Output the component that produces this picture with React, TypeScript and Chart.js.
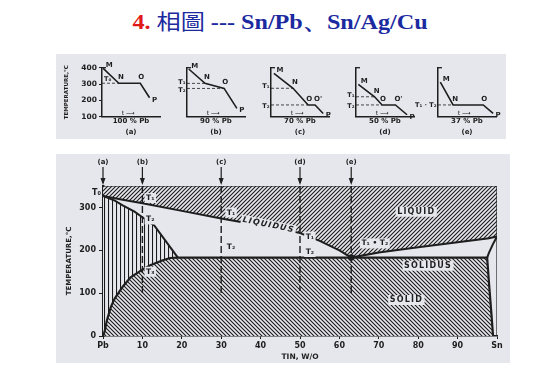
import React, { useEffect, useRef } from 'react';
import { Chart, registerables } from 'chart.js';
Chart.register(...registerables);

const PANEL_BG = '#e6e6ed';
const INK = '#1e1e1e';
const SANS = "'DejaVu Sans', 'Liberation Sans', sans-serif";

// ---------- Title ----------
const titleNumber = '4.';
const titleCJK = '相圖';
const titleRest = '--- Sn/Pb、Sn/Ag/Cu';

// ---------- Cooling curves (top row) ----------
const coolingCaptions = ['(a)', '(b)', '(c)', '(d)', '(e)'];
const coolingCompositions = ['100 % Pb', '90 % Pb', '70 % Pb', '50 % Pb', '37 % Pb'];

const curveATime = [0.02, 0.29, 0.66, 0.82];
const curveATemp = [396, 305, 305, 216];
const curveAMarks = ['M', 'N', 'O', 'P'];
const levelANames = ['T₀'];
const levelATemps = [305];

const curveBTime = [0.03, 0.31, 0.64, 0.86];
const curveBTemp = [392, 304, 273, 151];
const curveBMarks = ['M', 'N', 'O', 'P'];
const levelBNames = ['T₁', 'T₂'];
const levelBTemps = [304, 273];

const curveCTime = [0.05, 0.38, 0.64, 0.76, 0.9];
const curveCTemp = [365, 274, 172, 172, 120];
const curveCMarks = ['M', 'N', 'O', "O'", 'P'];
const levelCNames = ['T₁', 'T₂'];
const levelCTemps = [274, 172];

const curveDTime = [0.04, 0.32, 0.45, 0.68, 0.88];
const curveDTemp = [298, 222, 172, 172, 112];
const curveDMarks = ['M', 'N', 'O', "O'", 'P'];
const levelDNames = ['T₁', 'T₂'];
const levelDTemps = [222, 172];

const curveETime = [0.04, 0.26, 0.78, 0.95];
const curveETemp = [312, 172, 172, 121];
const curveEMarks = ['M', 'N', 'O', 'P'];
const levelENames = ['T₁ · T₂'];
const levelETemps = [172];

type Curve = { time: number[]; temp: number[]; marks: string[]; levelNames: string[]; levelTemps: number[] };
const coolingCurves: Curve[] = [
  { time: curveATime, temp: curveATemp, marks: curveAMarks, levelNames: levelANames, levelTemps: levelATemps },
  { time: curveBTime, temp: curveBTemp, marks: curveBMarks, levelNames: levelBNames, levelTemps: levelBTemps },
  { time: curveCTime, temp: curveCTemp, marks: curveCMarks, levelNames: levelCNames, levelTemps: levelCTemps },
  { time: curveDTime, temp: curveDTemp, marks: curveDMarks, levelNames: levelDNames, levelTemps: levelDTemps },
  { time: curveETime, temp: curveETemp, marks: curveEMarks, levelNames: levelENames, levelTemps: levelETemps },
];

// ---------- Phase diagram (bottom) ----------
const tinTicks = [0, 10, 20, 30, 40, 50, 60, 70, 80, 90, 100];
const tinTickLabels = ['Pb', '10', '20', '30', '40', '50', '60', '70', '80', '90', 'Sn'];

const liquidusTin = [0, 5, 10, 20, 30, 40, 45, 50, 55, 60, 63, 70, 80, 90, 98, 100];
const liquidusTemp = [327, 318, 310, 292, 274, 258, 251, 240, 222, 200, 183, 195, 207, 219, 228, 232];

const alphaSolidusTin = [0, 3, 5, 8, 10, 13, 15, 17, 19];
const alphaSolidusTemp = [327, 316, 305, 290, 277, 258, 233, 208, 183];

// solvus (Pb side) + eutectic line + solvus (Sn side)
const solidBoundaryTin = [0, 0.2, 0.4, 1, 2, 3, 5, 7, 10, 12, 15, 17, 19, 97.5, 98, 98.6, 99];
const solidBoundaryTemp = [0, 0, 10, 37, 68, 88, 115, 137, 155, 165, 176, 182, 183, 183, 120, 50, 0];

const betaSolidusTin = [100, 99, 98, 97.5];
const betaSolidusTemp = [232, 215, 195, 183];

const frameTin = [0, 100, 100];
const frameTemp = [350, 350, 0];

const eutecticTin = 63;
const eutecticTemp = 183;

const sectionTin = [0, 10, 30, 50, 63];
const sectionNames = ['(a)', '(b)', '(c)', '(d)', '(e)'];
const sectionDashBottom = [0, 100, 100, 105, 95];

const stateLabels = ['T₁', 'T₂', 'T₃', 'T₁', 'T₂', 'T₁', 'T₂', 'T₁ • T₂'];
const stateLabelTin = [12, 12, 12, 32.5, 32.5, 52.5, 52.5, 69];
const stateLabelTemp = [322, 272, 150, 288, 208, 232, 196, 216];

const regionLabels = ['LIQUID', 'SOLIDUS', 'SOLID'];
const regionLabelTin = [79.5, 82.5, 77];
const regionLabelTemp = [290, 164, 84];

const liquidusLabel = 'LIQUIDUS';
const liquidusLabelTin = 42;
const liquidusLabelTemp = 259;

// ---------- helpers ----------
function hatch(ctx: CanvasRenderingContext2D, kind: 'fwd' | 'back' | 'vert', size = 4) {
  const c = document.createElement('canvas');
  c.width = size;
  c.height = size;
  const g = c.getContext('2d')!;
  g.fillStyle = PANEL_BG;
  g.fillRect(0, 0, size, size);
  g.strokeStyle = '#1a1a1a';
  g.lineWidth = 1.1;
  g.beginPath();
  if (kind === 'vert') {
    g.moveTo(0.5, 0);
    g.lineTo(0.5, size);
  } else if (kind === 'fwd') {
    g.moveTo(0, size);
    g.lineTo(size, 0);
    g.moveTo(-1, 1);
    g.lineTo(1, -1);
    g.moveTo(size - 1, size + 1);
    g.lineTo(size + 1, size - 1);
  } else {
    g.moveTo(0, 0);
    g.lineTo(size, size);
    g.moveTo(-1, size - 1);
    g.lineTo(1, size + 1);
    g.moveTo(size - 1, -1);
    g.lineTo(size + 1, 1);
  }
  g.stroke();
  return ctx.createPattern(c, 'repeat')!;
}

function boxedText(ctx: CanvasRenderingContext2D, text: string, x: number, y: number) {
  const w = ctx.measureText(text).width;
  ctx.fillStyle = PANEL_BG;
  ctx.fillRect(x - w / 2 - 1.5, y - 5, w + 3, 10);
  ctx.fillStyle = INK;
  ctx.fillText(text, x, y);
}

const MARK_OFFSET: Record<string, [number, number]> = {
  M: [6, -3],
  N: [2, -6],
  O: [1, -6],
  "O'": [3, -6],
  P: [5, 2],
};

const coolingAnnotations = {
  id: 'coolingAnnotations',
  afterDatasetsDraw(chart: any, _args: any, opts: any) {
    const { ctx, chartArea: ca, scales } = chart;
    const x = scales.x;
    const y = scales.y;
    const idx: number = opts.index;
    const curve = coolingCurves[idx];
    ctx.save();
    ctx.strokeStyle = INK;
    ctx.fillStyle = INK;
    ctx.lineWidth = 1.3;
    ctx.beginPath();
    ctx.moveTo(ca.left, ca.top);
    ctx.lineTo(ca.left + 4, ca.top);
    ctx.stroke();
    ctx.textBaseline = 'middle';
    curve.levelTemps.forEach((T, k) => {
      const j = curve.temp.findIndex((v) => Math.abs(v - T) < 0.01);
      const tx = j >= 0 ? curve.time[j] : 0.3;
      const py = y.getPixelForValue(T);
      ctx.setLineDash([3, 2]);
      ctx.lineWidth = 0.8;
      ctx.beginPath();
      ctx.moveTo(ca.left, py);
      ctx.lineTo(x.getPixelForValue(tx), py);
      ctx.stroke();
      ctx.setLineDash([]);
      ctx.font = `bold 6.5px ${SANS}`;
      if (idx === 0) {
        ctx.textAlign = 'left';
        ctx.fillText(curve.levelNames[k], ca.left + 2, py - 4);
      } else {
        ctx.textAlign = 'right';
        const dy = curve.levelNames.length > 1 ? (k === 0 ? -1.5 : 1.5) : 0;
        ctx.fillText(curve.levelNames[k], ca.left - 1.5, py + dy);
      }
    });
    ctx.font = `bold 7px ${SANS}`;
    ctx.textAlign = 'center';
    curve.marks.forEach((m, k) => {
      const off = MARK_OFFSET[m] || [0, -6];
      ctx.fillText(m, x.getPixelForValue(curve.time[k]) + off[0], y.getPixelForValue(curve.temp[k]) + off[1]);
    });
    ctx.font = `6px ${SANS}`;
    ctx.fillText('t ⟶', x.getPixelForValue(0.45), ca.bottom - 3);
    ctx.restore();
  },
};

const MINI_AXIS_LEFT = [101.7, 186.7, 271, 356, 438.3];
const MINI_AXIS_W = [40, 24, 24, 24, 26];
const MINI_PLOT_W = 58;
const MINI_RIGHT = 12;
const MINI_TOP = 56;
const MINI_H = 82;
const MINI_PAD_TOP = 11.7;
const MINI_XAXIS_H = 21.3;

function MiniCooling({ i }: { i: number }) {
  const ref = useRef<HTMLCanvasElement>(null);
  const width = MINI_AXIS_W[i] + MINI_PLOT_W + MINI_RIGHT;
  useEffect(() => {
    const curve = coolingCurves[i];
    const chart = new Chart(ref.current!, {
      type: 'line',
      data: {
        datasets: [
          {
            data: curve.time.map((t, k) => ({ x: t, y: curve.temp[k] })),
            borderColor: INK,
            borderWidth: 1.6,
            pointRadius: 0,
            fill: false,
          },
        ],
      },
      options: {
        responsive: false,
        animation: false,
        layout: { padding: { top: MINI_PAD_TOP, right: MINI_RIGHT, left: 0, bottom: 0 } },
        plugins: {
          legend: { display: false },
          tooltip: { enabled: false },
          coolingAnnotations: { index: i },
        } as any,
        scales: {
          x: {
            type: 'linear',
            min: 0,
            max: 1,
            grid: { display: false },
            border: { display: true, color: INK, width: 1.5 },
            ticks: { display: false },
            title: {
              display: true,
              text: [coolingCompositions[i], coolingCaptions[i]],
              color: INK,
              font: { family: SANS, size: 7, weight: 'bold', lineHeight: 1.6 },
              padding: { top: 0, bottom: 0 },
            },
            afterFit: (s: any) => {
              s.height = MINI_XAXIS_H;
            },
          },
          y: {
            type: 'linear',
            min: 100,
            max: 400,
            ticks: {
              display: i === 0,
              stepSize: 100,
              color: INK,
              font: { family: SANS, size: 7.5, weight: 'bold' },
              padding: 2,
            },
            grid: { display: i === 0, drawOnChartArea: false, tickLength: 3, color: INK },
            border: { display: true, color: INK, width: 1.5 },
            title: {
              display: i === 0,
              text: 'TEMPERATURE,°C',
              color: INK,
              font: { family: SANS, size: 5.5, weight: 'bold' },
              padding: { top: 1, bottom: 0 },
            },
            afterFit: (s: any) => {
              s.width = MINI_AXIS_W[i];
            },
          },
        },
      } as any,
      plugins: [coolingAnnotations as any],
    });
    return () => chart.destroy();
  }, [i]);
  return (
    <canvas
      ref={ref}
      width={width}
      height={MINI_H}
      style={{ position: 'absolute', left: MINI_AXIS_LEFT[i] - MINI_AXIS_W[i], top: MINI_TOP }}
    />
  );
}

const phaseAnnotations = {
  id: 'phaseAnnotations',
  afterDatasetsDraw(chart: any) {
    const { ctx, chartArea: ca, scales } = chart;
    const x = scales.x;
    const y = scales.y;
    ctx.save();
    ctx.strokeStyle = INK;
    ctx.fillStyle = INK;
    ctx.textAlign = 'center';
    ctx.textBaseline = 'middle';
    // section captions and arrows
    ctx.font = `bold 7px ${SANS}`;
    sectionTin.forEach((v, k) => {
      const px = x.getPixelForValue(v);
      ctx.fillText(sectionNames[k], px, ca.top - 24);
      ctx.lineWidth = 1.2;
      ctx.beginPath();
      ctx.moveTo(px, ca.top - 19);
      ctx.lineTo(px, ca.top - 3);
      ctx.stroke();
      ctx.beginPath();
      ctx.moveTo(px - 2.5, ca.top - 8);
      ctx.lineTo(px, ca.top - 1);
      ctx.lineTo(px + 2.5, ca.top - 8);
      ctx.closePath();
      ctx.fill();
    });
    // T0
    ctx.font = `bold 8px ${SANS}`;
    ctx.textAlign = 'right';
    ctx.fillText('T₀', x.getPixelForValue(0) - 2, y.getPixelForValue(327) - 3);
    ctx.textAlign = 'center';
    // state labels
    ctx.font = `bold 7.5px ${SANS}`;
    stateLabels.forEach((s, k) => {
      boxedText(ctx, s, x.getPixelForValue(stateLabelTin[k]), y.getPixelForValue(stateLabelTemp[k]));
    });
    // region labels
    ctx.font = `bold 8px ${SANS}`;
    (ctx as any).letterSpacing = '1.2px';
    regionLabels.forEach((s, k) => {
      boxedText(ctx, s, x.getPixelForValue(regionLabelTin[k]), y.getPixelForValue(regionLabelTemp[k]));
    });
    // LIQUIDUS along the curve
    ctx.save();
    ctx.translate(x.getPixelForValue(liquidusLabelTin), y.getPixelForValue(liquidusLabelTemp));
    ctx.rotate(0.2);
    ctx.font = `italic bold 8px ${SANS}`;
    boxedText(ctx, liquidusLabel, 0, 0);
    ctx.restore();
    ctx.restore();
  },
};

function PhaseDiagram() {
  const ref = useRef<HTMLCanvasElement>(null);
  useEffect(() => {
    const canvas = ref.current!;
    const ctx = canvas.getContext('2d')!;
    const fwd = hatch(ctx, 'fwd');
    const back = hatch(ctx, 'back');
    const vert = hatch(ctx, 'vert');
    const pts = (xs: number[], ys: number[]) => xs.map((v, k) => ({ x: v, y: ys[k] }));
    const line = (data: any[], extra: any = {}) => ({
      data,
      borderColor: INK,
      borderWidth: 2,
      pointRadius: 0,
      fill: false,
      tension: 0,
      ...extra,
    });
    const dashed = sectionTin
      .map((v, k) =>
        k === 0
          ? null
          : line(
              [
                { x: v, y: 350 },
                { x: v, y: sectionDashBottom[k] },
              ],
              { borderDash: [7, 3], borderWidth: 1.4 }
            )
      )
      .filter(Boolean);
    const datasets = [
      ...dashed,
      line(pts(frameTin, frameTemp), { borderWidth: 1.2 }),
      line([{ x: eutecticTin, y: eutecticTemp }], {
        showLine: false,
        pointRadius: 3.2,
        pointBackgroundColor: INK,
        pointBorderWidth: 0,
      }),
      line(pts(betaSolidusTin, betaSolidusTemp), { borderWidth: 2 }),
      line(pts(liquidusTin, liquidusTemp), { fill: 'end', backgroundColor: fwd }),
      line(pts(solidBoundaryTin, solidBoundaryTemp), { fill: 'origin', backgroundColor: back, borderWidth: 2.2 }),
      line(pts(alphaSolidusTin, alphaSolidusTemp), { fill: 'origin', backgroundColor: vert }),
    ];
    const chart = new Chart(canvas, {
      type: 'line',
      data: { datasets: datasets as any },
      options: {
        responsive: false,
        animation: false,
        layout: { padding: { top: 32, right: 13, left: 0, bottom: 0 } },
        plugins: {
          legend: { display: false },
          tooltip: { enabled: false },
          filler: { drawTime: 'beforeDatasetsDraw' },
        },
        scales: {
          x: {
            type: 'linear',
            min: 0,
            max: 100,
            grid: { display: true, drawOnChartArea: false, tickLength: 3, color: INK },
            border: { display: true, color: INK, width: 1.5 },
            ticks: {
              stepSize: 10,
              autoSkip: false,
              maxRotation: 0,
              padding: 2,
              color: INK,
              font: { family: SANS, size: 8, weight: 'bold' },
              callback: (v: any) => {
                const k = tinTicks.indexOf(Number(v));
                return k >= 0 ? tinTickLabels[k] : '';
              },
            },
            title: {
              display: true,
              text: 'TIN, W/O',
              color: INK,
              font: { family: SANS, size: 7.5, weight: 'bold', lineHeight: 1.3 },
              padding: { top: 0, bottom: 1 },
            },
            afterFit: (s: any) => {
              s.height = 27;
            },
          },
          y: {
            type: 'linear',
            min: 0,
            max: 350,
            ticks: {
              stepSize: 100,
              includeBounds: false,
              padding: 3,
              color: INK,
              font: { family: SANS, size: 8, weight: 'bold' },
            },
            grid: { display: true, drawOnChartArea: false, tickLength: 4, color: INK },
            border: { display: true, color: INK, width: 2.5 },
            title: {
              display: true,
              text: 'TEMPERATURE,°C',
              color: INK,
              font: { family: SANS, size: 7, weight: 'bold', lineHeight: 1.3 },
              padding: { top: 5, bottom: 0 },
            },
            afterFit: (s: any) => {
              s.width = 43;
            },
          },
        },
      } as any,
      plugins: [phaseAnnotations as any],
    });
    return () => chart.destroy();
  }, []);
  return <canvas ref={ref} width={450} height={209} style={{ position: 'absolute', left: 60, top: 154 }} />;
}

export default function App() {
  return (
    <div
      style={{
        position: 'absolute',
        left: 0,
        top: 0,
        width: 550,
        height: 382,
        background: '#ffffff',
        overflow: 'hidden',
      }}
    >
      <div
        style={{
          position: 'absolute',
          left: 0,
          top: 8,
          width: 560,
          textAlign: 'center',
          fontFamily: "'Liberation Serif', 'Times New Roman', serif",
          fontWeight: 'bold',
          fontSize: 21,
          lineHeight: '24px',
          color: '#1c2aa0',
          whiteSpace: 'nowrap',
          transform: 'scaleX(1.15)',
          transformOrigin: '280px 50%',
        }}
      >
        <span style={{ color: '#e01818' }}>{titleNumber}</span>{' '}
        <span style={{ fontFamily: "'Noto Sans CJK TC', sans-serif", fontWeight: 'normal' }}>{titleCJK}</span>{' '}
        <span>{titleRest}</span>
      </div>
      <div style={{ position: 'absolute', left: 56, top: 54, width: 450, height: 85, background: PANEL_BG }} />
      <div style={{ position: 'absolute', left: 56, top: 154, width: 454, height: 209, background: PANEL_BG }} />
      {coolingCurves.map((_, i) => (
        <MiniCooling key={i} i={i} />
      ))}
      <PhaseDiagram />
    </div>
  );
}
